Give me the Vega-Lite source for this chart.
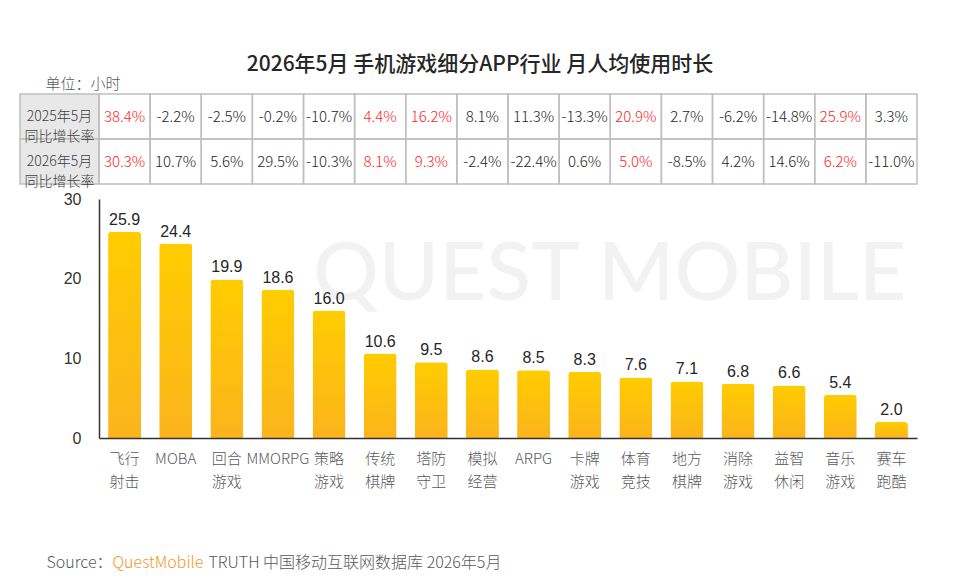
{
  "$schema": "https://vega.github.io/schema/vega-lite/v6.json",
  "width": 818,
  "height": 344,
  "autosize": {"type": "none"},
  "padding": {"left": 99, "top": 94, "right": 43, "bottom": 148},
  "background": "white",
  "title": {
    "text": "2026年5月 手机游戏细分APP行业 月人均使用时长",
    "font": "Noto Sans CJK SC",
    "fontSize": 21,
    "fontWeight": 500,
    "color": "#262626",
    "anchor": "middle",
    "dx": -28,
    "offset": 1
  },
  "datasets": {
    "games": [
      {"cat": "飞行 射击", "hours": 25.9, "g2025": 0.384, "g2026": 0.303},
      {"cat": "MOBA", "hours": 24.4, "g2025": -0.022, "g2026": 0.107},
      {"cat": "回合 游戏", "hours": 19.9, "g2025": -0.025, "g2026": 0.056},
      {"cat": "MMORPG", "hours": 18.6, "g2025": -0.002, "g2026": 0.295},
      {"cat": "策略 游戏", "hours": 16.0, "g2025": -0.107, "g2026": -0.103},
      {"cat": "传统 棋牌", "hours": 10.6, "g2025": 0.044, "g2026": 0.081},
      {"cat": "塔防 守卫", "hours": 9.5, "g2025": 0.162, "g2026": 0.093},
      {"cat": "模拟 经营", "hours": 8.6, "g2025": 0.081, "g2026": -0.024},
      {"cat": "ARPG", "hours": 8.5, "g2025": 0.113, "g2026": -0.224},
      {"cat": "卡牌 游戏", "hours": 8.3, "g2025": -0.133, "g2026": 0.006},
      {"cat": "体育 竞技", "hours": 7.6, "g2025": 0.209, "g2026": 0.050},
      {"cat": "地方 棋牌", "hours": 7.1, "g2025": 0.027, "g2026": -0.085},
      {"cat": "消除 游戏", "hours": 6.8, "g2025": -0.062, "g2026": 0.042},
      {"cat": "益智 休闲", "hours": 6.6, "g2025": -0.148, "g2026": 0.146},
      {"cat": "音乐 游戏", "hours": 5.4, "g2025": 0.259, "g2026": 0.062},
      {"cat": "赛车 跑酷", "hours": 2.0, "g2025": 0.033, "g2026": -0.110}
    ],
    "heads": [
      {"col": "h", "yr": "g2025", "label": "2025年5月 同比增长率"},
      {"col": "h", "yr": "g2026", "label": "2026年5月 同比增长率"}
    ]
  },
  "layer": [
    {
      "data": {"name": "heads"},
      "encoding": {
        "x": {
          "field": "col",
          "type": "nominal",
          "scale": {"range": [-79, 0], "paddingInner": 0, "paddingOuter": 0},
          "axis": {
            "orient": "bottom",
            "title": "QuestMobile",
            "labels": false,
            "ticks": false,
            "domain": false,
            "grid": false,
            "titleX": 13,
            "titleY": 124,
            "titleAlign": "left",
            "titleBaseline": "middle",
            "titleColor": "#f7941d",
            "titleFont": "Noto Sans CJK SC",
            "titleFontSize": 16,
            "titleFontWeight": 300
          }
        },
        "y": {
          "field": "yr",
          "type": "nominal",
          "scale": {"range": [0, 90], "paddingInner": 0, "paddingOuter": 0},
          "axis": null
        }
      },
      "layer": [
        {"mark": {"type": "rect", "fill": "#e8e8e8", "stroke": "#bfbfbf", "strokeWidth": 1.5}},
        {
          "mark": {"type": "text", "lineBreak": " ", "font": "Noto Sans CJK SC", "fontWeight": 300, "fontSize": 14, "lineHeight": 20, "color": "#404040"},
          "encoding": {"text": {"field": "label"}}
        }
      ]
    },
    {
      "data": {"name": "games"},
      "transform": [
        {"fold": ["g2025", "g2026"], "as": ["yr", "rate"]},
        {"calculate": "replace(format(datum.rate, '.1%'), '−', '-')", "as": "lbl"}
      ],
      "encoding": {
        "x": {
          "field": "cat",
          "type": "nominal",
          "sort": null,
          "scale": {"paddingInner": 0, "paddingOuter": 0},
          "axis": {
            "orient": "bottom",
            "title": "TRUTH 中国移动互联网数据库 2026年5月",
            "labels": false,
            "ticks": false,
            "domain": false,
            "grid": false,
            "titleX": 109,
            "titleY": 124,
            "titleAlign": "left",
            "titleBaseline": "middle",
            "titleColor": "#595959",
            "titleFont": "Noto Sans CJK SC",
            "titleFontSize": 16,
            "titleFontWeight": 300
          }
        },
        "y": {
          "field": "yr",
          "type": "nominal",
          "scale": {"range": [0, 90], "paddingInner": 0, "paddingOuter": 0},
          "axis": null
        }
      },
      "layer": [
        {"mark": {"type": "rect", "filled": false, "stroke": "#bfbfbf", "strokeWidth": 1.5}},
        {
          "mark": {"type": "text", "font": "Noto Sans CJK SC", "fontWeight": 300, "fontSize": 15},
          "encoding": {
            "text": {"field": "lbl"},
            "color": {
              "condition": {"test": "datum.g2025 > 0 && datum.g2026 > 0", "value": "#ff2525"},
              "value": "#262626"
            }
          }
        }
      ]
    },
    {
      "data": {"name": "games"},
      "encoding": {
        "x": {
          "field": "cat",
          "type": "nominal",
          "scale": {
            "domain": ["飞行 射击", "MOBA", "回合 游戏", "MMORPG", "策略 游戏", "传统 棋牌", "塔防 守卫", "模拟 经营", "ARPG", "卡牌 游戏", "体育 竞技", "地方 棋牌", "消除 游戏", "益智 休闲", "音乐 游戏", "赛车 跑酷"],
            "paddingInner": 0.355,
            "paddingOuter": 0.1775
          },
          "axis": {
            "orient": "bottom",
            "title": "Source：",
            "titleX": -53,
            "titleY": 124,
            "titleAlign": "left",
            "titleBaseline": "middle",
            "titleColor": "#595959",
            "titleFont": "Noto Sans CJK SC",
            "titleFontSize": 16,
            "titleFontWeight": 300,
            "labelExpr": "split(datum.label, ' ')",
            "labelFont": "Noto Sans CJK SC",
            "labelFontSize": 15,
            "labelFontWeight": 300,
            "labelColor": "#595959",
            "labelAngle": 0,
            "labelPadding": 13,
            "labelLineHeight": 23,
            "labelBaseline": "top",
            "labelOverlap": false,
            "labelBound": false,
            "ticks": false,
            "grid": false,
            "domainColor": "#333333",
            "domainWidth": 1.5,
            "zindex": 1
          }
        },
        "y": {
          "field": "hours",
          "type": "quantitative",
          "scale": {"domain": [0, 30], "range": [344, 105], "nice": false},
          "axis": {
            "orient": "left",
            "values": [0, 10, 20, 30],
            "title": "单位：小时",
            "titleAngle": 0,
            "titleX": -54,
            "titleY": -11,
            "titleAlign": "left",
            "titleBaseline": "middle",
            "titleColor": "#595959",
            "titleFont": "Noto Sans CJK SC",
            "titleFontSize": 15,
            "titleFontWeight": 300,
            "labelFont": "Liberation Sans",
            "labelFontSize": 16,
            "labelColor": "#333333",
            "labelPadding": 18,
            "ticks": false,
            "grid": false,
            "domainColor": "#333333",
            "domainWidth": 1.5,
            "zindex": 1
          }
        }
      },
      "layer": [
        {
          "transform": [{"filter": "datum.cat === '卡牌 游戏'"}],
          "mark": {"type": "text", "text": "QUEST MOBILE", "font": "Lato", "fontSize": 82, "fontWeight": 500, "color": "#f2f2f2", "align": "center", "baseline": "middle", "dx": 25},
          "encoding": {
            "y": {"datum": 20.5}
          }
        },
        {
          "mark": {
            "type": "bar",
            "cornerRadiusTopLeft": 3,
            "cornerRadiusTopRight": 3,
            "color": {
              "gradient": "linear",
              "x1": 0, "y1": 0, "x2": 0, "y2": 1,
              "stops": [
                {"offset": 0, "color": "#ffcc00"},
                {"offset": 1, "color": "#fbb41c"}
              ]
            }
          }
        },
        {
          "mark": {"type": "text", "baseline": "bottom", "dy": -4, "font": "Liberation Sans", "fontSize": 16, "color": "#262626"},
          "encoding": {"text": {"field": "hours", "type": "quantitative", "format": ".1f"}}
        }
      ]
    }
  ],
  "resolve": {"scale": {"x": "independent", "y": "independent"}},
  "config": {"view": {"stroke": null}}
}
